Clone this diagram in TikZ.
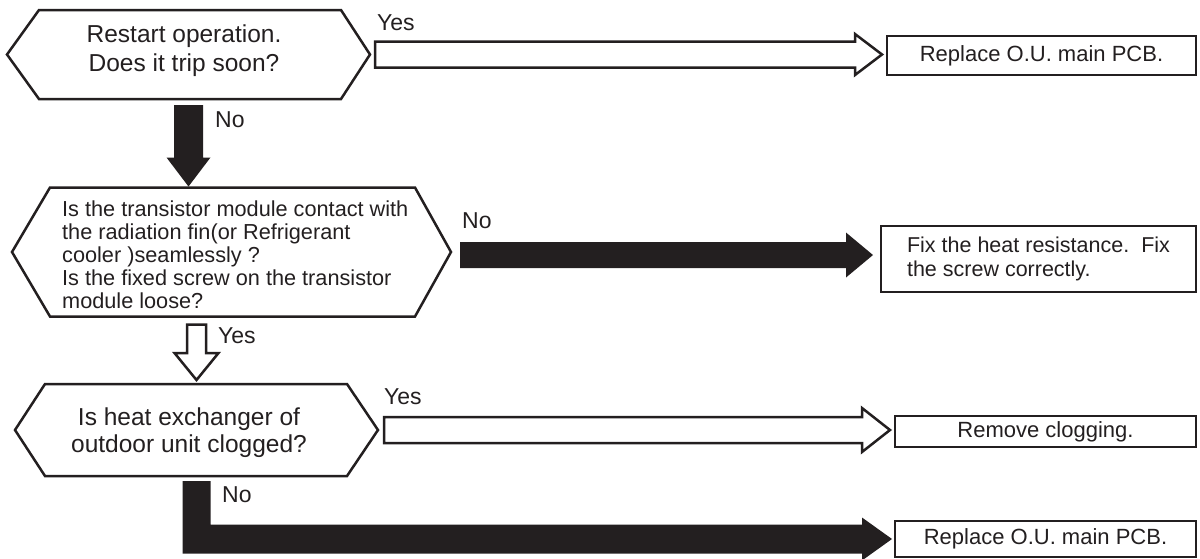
\documentclass[tikz,border=0pt]{standalone}
\usepackage{fontspec}
\setmainfont{Liberation Sans}
\usetikzlibrary{calc}
\definecolor{ink}{HTML}{231F20}
\newcommand\HArrow[6]{\path[#1] let \p1=(#2), \p2=(#3) in
  (\x1,\y1+#4) -- (\x2-#6,\y1+#4) -- (\x2-#6,\y1+#5) -- (\x2,\y1) -- (\x2-#6,\y1-#5) -- (\x2-#6,\y1-#4) -- (\x1,\y1-#4) -- cycle;}
\newcommand\VArrow[6]{\path[#1] let \p1=(#2), \p2=(#3) in
  (\x1-#4,\y1) -- (\x1-#4,\y2+#6) -- (\x1-#5,\y2+#6) -- (\x1,\y2) -- (\x1+#5,\y2+#6) -- (\x1+#4,\y2+#6) -- (\x1+#4,\y1) -- cycle;}
\newcommand\Hexa[3]{\draw[hexline] (#1.west) -- ([xshift=#2]#1.north west) -- ([xshift=-#3]#1.north east) -- (#1.east) -- ([xshift=-#3]#1.south east) -- ([xshift=#2]#1.south west) -- cycle;}
\begin{document}
\begin{tikzpicture}[x=1pt,y=-1pt,
  every node/.style={text=ink},
  hexnode/.style={inner sep=0pt, outer sep=0pt},
  hexline/.style={draw=ink, line width=2.5pt, line join=miter},
  box/.style={draw=ink, line width=2.6pt, inner sep=0pt, outer sep=0pt, fill=white},
  lab/.style={anchor=base west, inner sep=0pt, font=\fontsize{23}{26}\selectfont},
  hollow/.style={draw=ink, fill=white, line width=2.5pt, line join=miter},
  solid/.style={fill=ink}]
\path[use as bounding box] (0,0) rectangle (1200,558);

% decision nodes
\node[hexnode, minimum width=363pt, minimum height=89pt] (h1) at (188.5,54.5) {};
\Hexa{h1}{32pt}{29pt}
\node[inner sep=0pt, align=center, font=\fontsize{24.5}{29}\selectfont] (h1t) at (184,50.5)
  {Restart operation.\\Does it trip soon?};

\node[hexnode, minimum width=439pt, minimum height=129pt] (h2) at (231.5,252) {};
\Hexa{h2}{38pt}{36pt}
\node[inner sep=0pt, anchor=west, align=left, font=\fontsize{21.7}{23}\selectfont] (h2t) at (62,255)
  {Is the transistor module contact with\\the radiation fin(or Refrigerant\\cooler )seamlessly ?\\Is the fixed screw on the transistor\\module loose?};

\node[hexnode, minimum width=363pt, minimum height=92pt] (h3) at (196.5,430) {};
\Hexa{h3}{30pt}{31pt}
\node[inner sep=0pt, align=center, font=\fontsize{24.5}{27}\selectfont] (h3t) at (189,433)
  {Is heat exchanger of\\outdoor unit clogged?};

% result boxes
\node[box, minimum width=309pt, minimum height=39pt, font=\fontsize{22}{24}\selectfont]
  (r1) at (1041.5,55.5) {Replace O.U. main PCB.};
\node[box, minimum width=315pt, minimum height=66pt, align=left, font=\fontsize{21.5}{24}\selectfont]
  (r2) at (1038.5,259) {Fix the heat resistance.\ \ Fix\\the screw correctly.};
\node[box, minimum width=301pt, minimum height=31pt, font=\fontsize{22}{24}\selectfont]
  (r3) at (1045.5,431.5) {Remove clogging.};
\node[box, minimum width=301pt, minimum height=36pt, font=\fontsize{22}{24}\selectfont]
  (r4) at (1045.5,539) {Replace O.U. main PCB.};

% connector end points
\coordinate (a1s) at ([xshift=5pt]h1.east);
\coordinate (a1e) at ([xshift=-5pt]r1.west);
\coordinate (a2s) at ([yshift=-6pt]h1.south);
\path (h1.south |- h2.north) ++(0,-1) coordinate (a2e);
\coordinate (a3s) at ([xshift=9pt,yshift=-3pt]h2.east);
\coordinate (a3e) at ([xshift=-8pt]r2.west);
\path (h3.north |- h2.south) ++(0,8) coordinate (a4s);
\coordinate (a4e) at ([yshift=4pt]h3.north);
\coordinate (a5s) at ([xshift=6pt]h3.east);
\coordinate (a5e) at ([xshift=-5pt]r3.west);
\coordinate (a6s) at ([yshift=-5pt]h3.south);
\coordinate (a6e) at ([xshift=-3pt]r4.west);

% connectors
\HArrow{hollow}{a1s}{a1e}{13}{20.5}{27}
\VArrow{solid}{a2s}{a2e}{14.5}{22}{29}
\HArrow{solid}{a3s}{a3e}{13}{22.5}{27}
\VArrow{hollow}{a4s}{a4e}{9.5}{22}{27}
\HArrow{hollow}{a5s}{a5e}{13}{22}{28}
\path[solid] let \p1=(a6s), \p2=(a6e) in
  (\x1-14,\y1) -- (\x1+14,\y1) -- (\x1+14,\y2+14.5) -- (\x2-30,\y2+14.5) -- (\x2-30,\y2+21.5)
  -- (\x2,\y2) -- (\x2-30,\y2-21.5) -- (\x2-30,\y2-14.5) -- (\x1-14,\y2-14.5) -- cycle;

% labels
\node[lab] (l1) at (377,30) {Yes};
\node[lab] (l2) at (215,127) {No};
\node[lab] (l3) at (462,228) {No};
\node[lab] (l4) at (218,343) {Yes};
\node[lab] (l5) at (384,404) {Yes};
\node[lab] (l6) at (222,502) {No};
\end{tikzpicture}
\end{document}
